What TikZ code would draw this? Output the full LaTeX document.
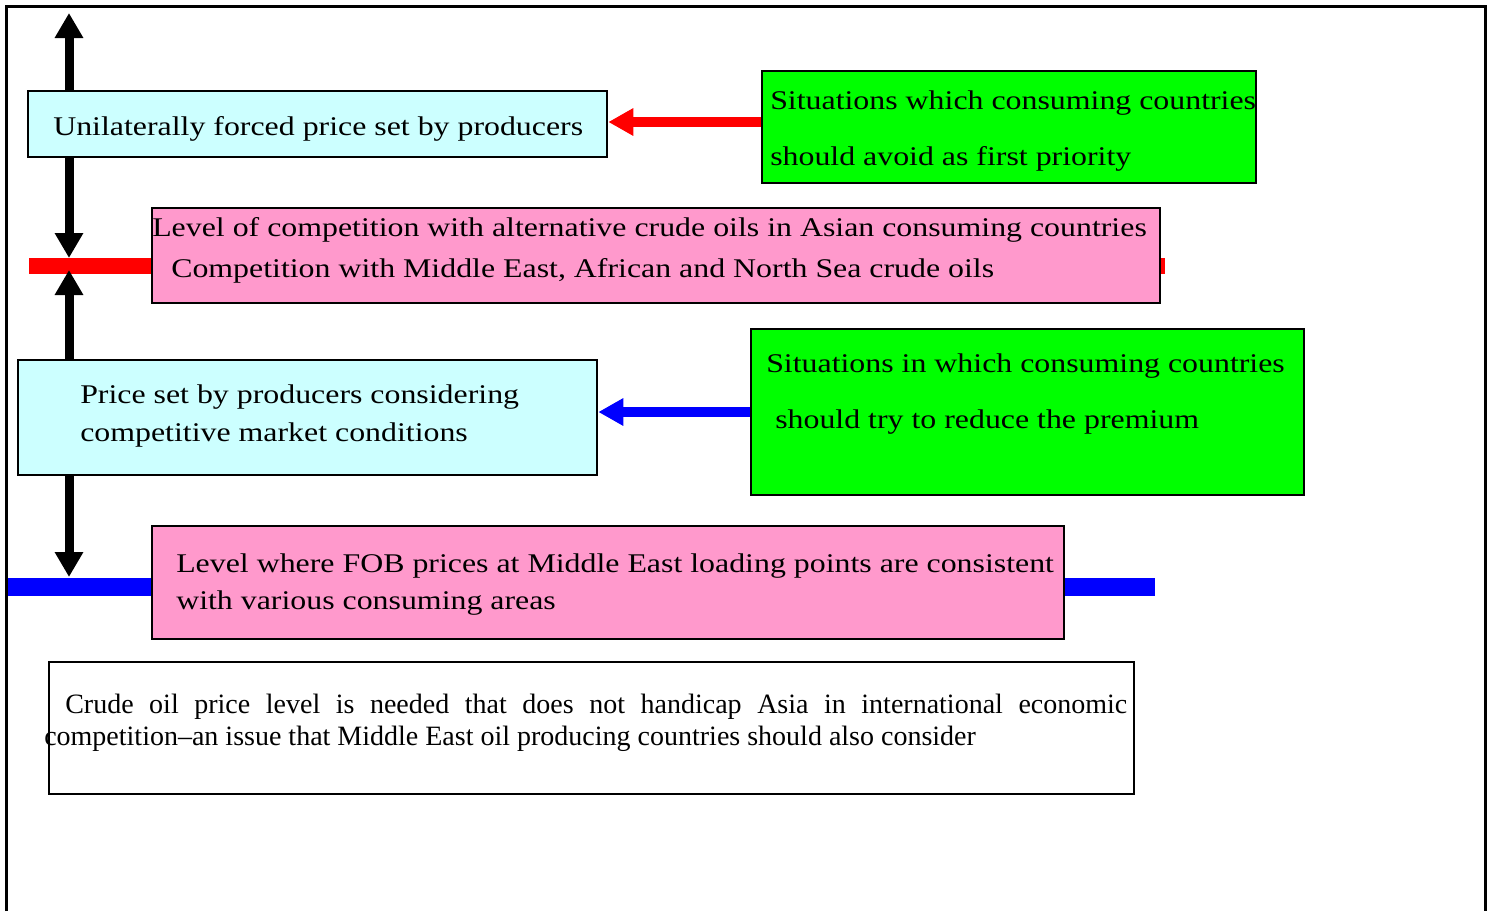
\documentclass[tikz,border=0pt]{standalone}
\usepackage{fontspec}
\setmainfont{Liberation Serif}
\newfontfamily\widefont{Liberation Serif}[FakeStretch=1.18]
\usepackage{tikz}
\usetikzlibrary{arrows.meta}

\definecolor{cyanbox}{HTML}{CCFFFF}
\definecolor{greenbox}{HTML}{00FF00}
\definecolor{pinkbox}{HTML}{FF99CC}

\begin{document}
\begin{tikzpicture}[x=0.75pt,y=-0.75pt]
	\tikzstyle{box_cyan} = [draw=black, line width=2pt, fill=cyanbox, inner sep=0pt]
	\tikzstyle{box_green} = [draw=black, line width=2pt, fill=greenbox, inner sep=0pt]
	\tikzstyle{box_pink} = [draw=black, line width=2pt, fill=pinkbox, inner sep=0pt]
	\tikzstyle{box_note} = [draw=black, line width=2pt, fill=white, inner sep=0pt]
	\tikzstyle{text_big} = [inner sep=0pt, anchor=base west, font=\widefont\fontsize{20.25}{24}\selectfont]
	\tikzstyle{text_note} = [inner sep=0pt, anchor=base west, font=\fontsize{21}{24}\selectfont]
	\tikzstyle{arrow_black} = [line width=6.75pt, -{Triangle[length=18.75pt, width=20.25pt]}]
	\tikzstyle{arrow_red} = [draw=red, line width=7.5pt, -{Triangle[length=18.75pt, width=19.5pt]}]
	\tikzstyle{arrow_blue} = [draw=blue, line width=7.5pt, -{Triangle[length=18.75pt, width=19.5pt]}]
	\tikzstyle{bar_red} = [draw=red, line width=12.5pt]
	\tikzstyle{bar_blue} = [draw=blue, line width=13.5pt]

	\useasboundingbox (0,0) rectangle (1492,911);
	\draw[line width=2.25pt] (6,911) -- (6,6) -- (1485,6) -- (1485,911);

%------------------------------------------------------------
	\coordinate (red_l) at (29,266);
	\coordinate (red_r) at (1165,266);
	\coordinate (blue_l) at (8,587);
	\coordinate (blue_r) at (1155,587);

	\draw[bar_red] (red_l) -- (red_r);
	\draw[bar_blue] (blue_l) -- (blue_r);

%------------------------------------------------------------
	\node[box_cyan, minimum width=434.25pt, minimum height=49.5pt] (forced) at (317.5,124) {};
	\node[box_green, minimum width=370.5pt, minimum height=84pt] (avoid) at (1009,127) {};
	\node[box_pink, minimum width=756pt, minimum height=71.25pt] (asian) at (656,255.5) {};
	\node[box_cyan, minimum width=434.25pt, minimum height=86.25pt] (market) at (307.5,417.5) {};
	\node[box_green, minimum width=414.75pt, minimum height=124.5pt] (premium) at (1027.5,412) {};
	\node[box_pink, minimum width=684pt, minimum height=84.75pt] (fob) at (608,582.5) {};
	\node[box_note, minimum width=813.75pt, minimum height=99pt] (note) at (591.5,728) {};

%------------------------------------------------------------
	\coordinate (top_end) at (69,13);
	\coordinate (red_top) at (69,258);
	\coordinate (red_bot) at (69,270);
	\coordinate (blue_top) at (69,577);

	\draw[arrow_black] (top_end |- forced.north) -- (top_end);
	\draw[arrow_black] (red_top |- forced.south) -- (red_top);
	\draw[arrow_black] (red_bot |- market.north) -- (red_bot);
	\draw[arrow_black] (blue_top |- market.south) -- (blue_top);

	\draw[arrow_red] ([yshift=3.75pt]avoid.west) -- ([yshift=3.75pt]avoid.west -| forced.east);
	\draw[arrow_blue] (premium.west) -- (premium.west -| market.east);

%------------------------------------------------------------
	\node[text_big] (forced_t) at (53,135) {Unilaterally forced price set by producers};

	\node[text_big] (avoid_t1) at (770,109) {Situations which consuming countries};
	\node[text_big] (avoid_t2) at (770,165) {should avoid as first priority};

	\node[text_big] (asian_t1) at (152,236) {Level of competition with alternative crude oils in Asian consuming countries};
	\node[text_big] (asian_t2) at (171,277) {Competition with Middle East, African and North Sea crude oils};

	\node[text_big] (market_t1) at (80,403) {Price set by producers considering};
	\node[text_big] (market_t2) at (80,441) {competitive market conditions};

	\node[text_big] (premium_t1) at (766,372) {Situations in which consuming countries};
	\node[text_big] (premium_t2) at (775,428) {should try to reduce the premium};

	\node[text_big] (fob_t1) at (176,572) {Level where FOB prices at Middle East loading points are consistent};
	\node[text_big] (fob_t2) at (176,609) {with various consuming areas};

	\node[text_note] (note_t1) at (65,713) {\makebox[796.5pt][s]{Crude oil price level is needed that does not handicap Asia in international economic}};
	\node[text_note] (note_t2) at (44,745) {competition–an issue that Middle East oil producing countries should also consider};

\end{tikzpicture}
\end{document}
